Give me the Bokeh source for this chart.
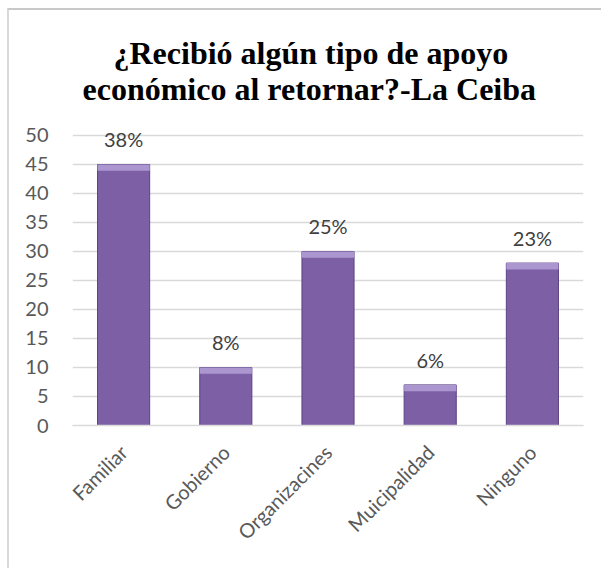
import math
from bokeh.plotting import figure
from bokeh.models import ColumnDataSource, LabelSet, Title, Range1d, FixedTicker
from bokeh.core.properties import value
from bokeh.embed import file_html
from bokeh.resources import INLINE

categories = ["Familiar", "Gobierno", "Organizacines", "Muicipalidad", "Ninguno"]
values = [45, 10, 30, 7, 28]
pct_labels = ["38%", "8%", "25%", "6%", "23%"]
y_ticks = [0, 5, 10, 15, 20, 25, 30, 35, 40, 45, 50]
title_lines = ["¿Recibió algún tipo de apoyo", "económico al retornar?-La Ceiba"]

bevel = 1.1
src = ColumnDataSource(dict(
    cat=categories,
    val=values,
    lab=pct_labels,
    bev=[v - bevel for v in values],
))

p = figure(x_range=categories, y_range=Range1d(0, 51.2), width=594, height=560,
           output_backend="svg", toolbar_location=None,
           min_border_left=63, min_border_right=20, min_border_top=118, min_border_bottom=145)
p.styles = {"margin-left": "7px", "margin-top": "8px",
            "border-left": "2px solid #d9d9d9",
            "border-top": "2px solid #c8c8c8"}
p.outline_line_color = None
p.background_fill_color = "white"
p.border_fill_color = "white"

p.vbar(x="cat", top="val", bottom=0, width=0.51, source=src,
       fill_color="#7c5fa5", line_color="#5b4384", line_width=1)
p.vbar(x="cat", top="val", bottom="bev", width=0.51, source=src,
       fill_color="#ab96cf", line_color=None)

labels = LabelSet(x="cat", y="val", text="lab", source=src, text_align="center",
                  text_baseline="middle", y_offset=25, text_font=value("Lato"),
                  text_font_size=value("20px"), text_color=value("#404040"))
p.add_layout(labels)

title_style = dict(text_font="Liberation Serif", text_font_style="bold",
                   text_font_size="32px", text_color="black", align="left")
p.add_layout(Title(text=" ", text_font_size="1px", standoff=20), "above")
p.add_layout(Title(text=title_lines[1], offset=10, standoff=-2, **title_style), "above")
p.add_layout(Title(text=title_lines[0], offset=41, standoff=-3, **title_style), "above")

p.xgrid.grid_line_color = None
p.ygrid.grid_line_color = "#d9d9d9"
p.ygrid.grid_line_width = 1.5
p.yaxis.ticker = FixedTicker(ticks=y_ticks)
p.yaxis.axis_line_color = None
p.yaxis.major_tick_line_color = None
p.yaxis.minor_tick_line_color = None
p.yaxis.major_label_standoff = 18
p.yaxis.major_label_text_font = "Lato"
p.yaxis.major_label_text_font_size = "20px"
p.yaxis.major_label_text_color = "#595959"

p.xaxis.axis_line_color = "#d9d9d9"
p.xaxis.axis_line_width = 1.5
p.xaxis.major_tick_line_color = None
p.xaxis.minor_tick_line_color = None
p.xaxis.major_label_orientation = math.pi / 4
p.xaxis.major_label_standoff = 17
p.xaxis.major_label_text_font = "Lato"
p.xaxis.major_label_text_font_size = "20px"
p.xaxis.major_label_text_color = "#595959"

open("out.html", "w").write(file_html(p, INLINE))
